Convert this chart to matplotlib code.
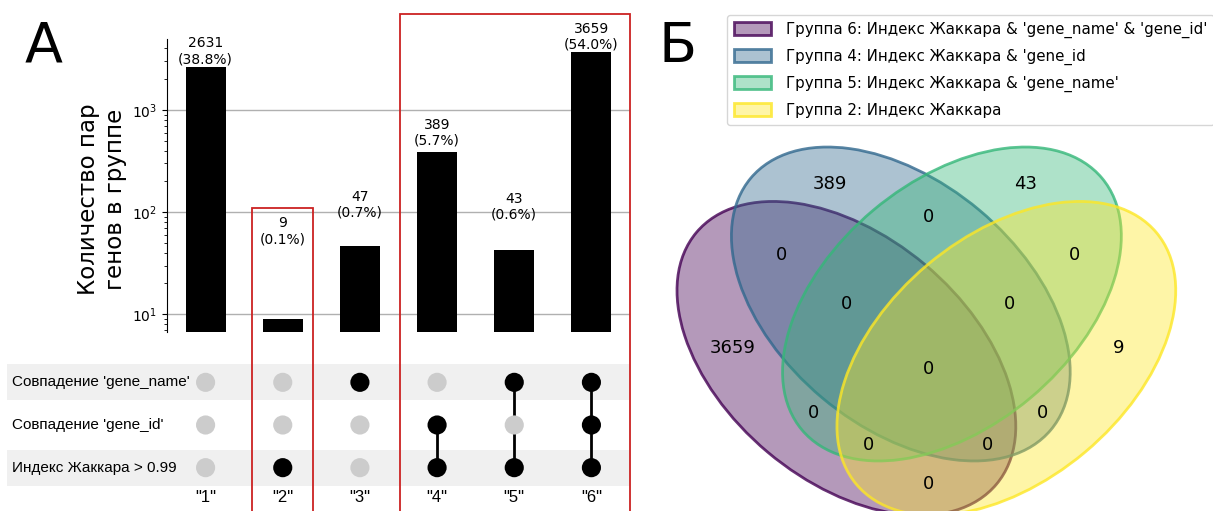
"""
Two-panel figure: UpSet-style summary of gene-pair matching criteria (А)
and a four-set Venn diagram of the same groups (Б).
"""

import matplotlib

matplotlib.use("Agg")
import matplotlib.pyplot as plt
from matplotlib.patches import Ellipse, Patch, Rectangle
from matplotlib.transforms import blended_transform_factory

W, H = 1213, 511

# ---- UpSet data ----
GROUP_LABELS = ['"1"', '"2"', '"3"', '"4"', '"5"', '"6"']
GROUP_SIZES = [2631, 9, 47, 389, 43, 3659]
CRITERIA = ["Совпадение 'gene_name'", "Совпадение 'gene_id'", "Индекс Жаккара > 0.99"]
# rows follow CRITERIA, columns follow GROUP_LABELS
MEMBERSHIP = [
    [0, 0, 1, 0, 1, 1],
    [0, 0, 0, 1, 0, 1],
    [0, 1, 0, 1, 1, 1],
]

# ---- Venn data ----
VENN_NAMES = [
    "Группа 6: Индекс Жаккара & 'gene_name' & 'gene_id'",
    "Группа 4: Индекс Жаккара & 'gene_id",
    "Группа 5: Индекс Жаккара & 'gene_name'",
    "Группа 2: Индекс Жаккара",
]
VENN_REGIONS = ["0001", "0010", "0011", "0100", "0101", "0110", "0111", "1000",
                "1001", "1010", "1011", "1100", "1101", "1110", "1111"]
VENN_COUNTS = [9, 43, 0, 389, 0, 0, 0, 3659, 0, 0, 0, 0, 0, 0, 0]

# classic 4-ellipse layout (unit square)
ELLIPSES = [(0.350, 0.400, 140.0), (0.450, 0.500, 140.0),
            (0.544, 0.500, 40.0), (0.644, 0.400, 40.0)]
REGION_XY = {
    "0001": (0.85, 0.42), "0010": (0.68, 0.72), "0011": (0.77, 0.59),
    "0100": (0.32, 0.72), "0101": (0.71, 0.30), "0110": (0.50, 0.66),
    "0111": (0.65, 0.50), "1000": (0.14, 0.42), "1001": (0.50, 0.17),
    "1010": (0.29, 0.30), "1011": (0.39, 0.24), "1100": (0.23, 0.59),
    "1101": (0.61, 0.24), "1110": (0.35, 0.50), "1111": (0.50, 0.38),
}

# red frames around highlighted groups: (left px, right px, top px)
FRAMES = [(252, 313, 208), (400, 630, 14)]


def fbox(left, top, right, bottom):
    """Pixel box -> figure fraction rect."""
    return [left / W, 1 - bottom / H, (right - left) / W, (bottom - top) / H]


def main():
    fig = plt.figure(figsize=(W / 100, H / 100), dpi=100)
    total = sum(GROUP_SIZES)
    xs = list(range(len(GROUP_SIZES)))

    # ---- bar chart ----
    ax = fig.add_axes(fbox(167, 39, 630, 332))
    ax.set_yscale("log")
    ax.bar(xs, GROUP_SIZES, width=0.52, color="black", zorder=3)
    ax.set_xlim(-0.5, 5.5)
    ax.set_ylim(6.7, 4950)
    ax.yaxis.grid(True, which="major", color="#b0b0b0", lw=1)
    ax.set_axisbelow(True)
    for side in ("top", "right", "bottom"):
        ax.spines[side].set_visible(False)
    ax.set_xticks([])
    ax.tick_params(axis="y", labelsize=10)
    margin = 37
    for x, v in zip(xs, GROUP_SIZES):
        ax.text(x, v + margin, "{}\n({:.1f}%)".format(v, 100 * v / total),
                ha="center", va="bottom", fontsize=10)

    fig.text(102 / W, 1 - 199 / H, "Количество пар\nгенов в группе",
             rotation=90, ha="center", va="center", fontsize=16.5,
             multialignment="center")

    # ---- membership matrix ----
    axm = fig.add_axes(fbox(167, 361, 630, 489))
    axm.set_xlim(-0.5, 5.5)
    axm.set_ylim(2.5, -0.5)
    for s in axm.spines.values():
        s.set_visible(False)
    axm.set_yticks([])
    axm.set_xticks(xs)
    axm.set_xticklabels(GROUP_LABELS, family="Liberation Sans", fontsize=12)
    axm.tick_params(axis="x", length=0, pad=1)

    shade_tr = axm.get_yaxis_transform()
    for r in (0, 2):
        axm.add_patch(Rectangle((-160 / 463, r - 0.42), 1 + 160 / 463, 0.84,
                                transform=shade_tr, clip_on=False,
                                facecolor="#f0f0f0", edgecolor="none", zorder=0))

    label_tr = blended_transform_factory(fig.transFigure, axm.transData)
    for r, name in enumerate(CRITERIA):
        axm.text(12 / W, r, name, transform=label_tr, ha="left", va="center",
                 family="Liberation Sans", fontsize=11)

    for c in xs:
        rows_on = [r for r in range(len(CRITERIA)) if MEMBERSHIP[r][c]]
        if len(rows_on) > 1:
            axm.plot([c, c], [min(rows_on), max(rows_on)], color="black",
                     lw=2, zorder=2)
        for r in range(len(CRITERIA)):
            axm.scatter(c, r, s=190, color="black" if MEMBERSHIP[r][c] else "#cccccc",
                        edgecolor="none", zorder=3)

    for left, right, top in FRAMES:
        fig.add_artist(Rectangle((left / W, -0.05), (right - left) / W,
                                 1 - top / H + 0.05, transform=fig.transFigure,
                                 fill=False, edgecolor="#cc2222", lw=1.3))

    # ---- Venn diagram ----
    axv = fig.add_axes([656 / W, 0, (W - 656) / W, 1])
    axv.set_xlim(0, 557 / 544)
    axv.set_ylim(65 / 544, 576 / 544)
    axv.axis("off")
    cmap = plt.get_cmap("viridis")
    colors = [cmap(i / 3) for i in range(4)]
    for (cx, cy, ang), col in zip(ELLIPSES, colors):
        axv.add_patch(Ellipse((cx, cy), 0.72, 0.45, angle=ang,
                              facecolor=(*col[:3], 0.4),
                              edgecolor=(*col[:3], 0.8), lw=2))
    for code, n in zip(VENN_REGIONS, VENN_COUNTS):
        x, y = REGION_XY[code]
        axv.text(x, y, str(n), ha="center", va="center", fontsize=13)

    handles = [Patch(facecolor=(*c[:3], 0.4), edgecolor=(*c[:3], 0.8), lw=2,
                     label=name) for c, name in zip(colors, VENN_NAMES)]
    fig.legend(handles=handles, loc="upper left",
               bbox_to_anchor=(727 / W, 1 - 15 / H), fontsize=10.8,
               handlelength=2.5, handleheight=0.95, handletextpad=0.95,
               labelspacing=0.72, borderpad=0.45, borderaxespad=0)

    fig.text(25 / W, 1 - 62 / H, "А", fontsize=40, va="baseline")
    fig.text(658 / W, 1 - 62 / H, "Б", fontsize=40, va="baseline")

    fig.savefig("out.png", dpi=100)


if __name__ == "__main__":
    main()
